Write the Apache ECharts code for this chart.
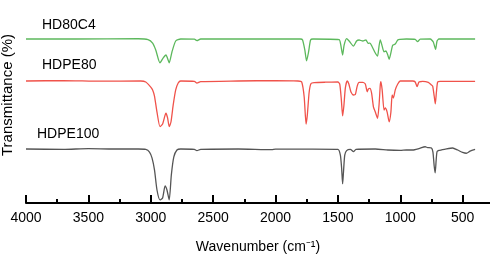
<!DOCTYPE html>
<html>
<head>
<meta charset="utf-8">
<script src="https://cdn.jsdelivr.net/npm/echarts@6/dist/echarts.min.js"></script>
<style>
  html, body { margin: 0; padding: 0; background: #fff; }
  #chart { width: 490px; height: 255px; }
</style>
</head>
<body>
<div id="chart"></div>
<script>
// wavenumber (cm-1), transmittance (offset, a.u.)
const hd80c4 = [
  [4000, 80.8], [3600, 80.8], [3100, 80.9], [3022, 80.5], [2985, 78.8], [2960, 75.4],
  [2926, 69.0], [2900, 71.5], [2878, 72.9], [2852, 69.1], [2830, 74.4], [2800, 79.8],
  [2760, 80.8], [2650, 80.7], [2630, 80.0], [2600, 80.8], [1800, 80.8], [1783, 80.3],
  [1765, 75.4], [1751, 70.0], [1735, 74.4], [1719, 80.3], [1700, 80.8], [1490, 80.5],
  [1478, 78.3], [1462, 72.9], [1450, 77.8], [1430, 81.0], [1410, 79.8], [1375, 77.3],
  [1350, 79.8], [1330, 80.3], [1300, 79.8], [1275, 80.3], [1257, 78.6], [1243, 78.8],
  [1225, 77.0], [1200, 73.9], [1182, 72.4], [1170, 77.3], [1160, 80.3], [1145, 77.3],
  [1130, 74.5], [1115, 74.9], [1100, 72.9], [1089, 70.8], [1070, 75.4], [1060, 77.8],
  [1040, 78.3], [1020, 80.3], [1003, 80.6], [950, 80.8], [880, 80.6], [861, 79.5],
  [840, 80.7], [760, 80.8], [735, 79.3], [717, 75.7], [705, 79.8], [690, 80.8], [400, 80.8]
];

const hdpe80 = [
  [4000, 60.1], [3700, 60.3], [3400, 60.0], [3080, 60.1], [3040, 59.6], [3000, 57.1],
  [2985, 55.7], [2970, 52.7], [2950, 44.8], [2926, 37.6], [2905, 38.9], [2885, 43.3],
  [2878, 44.2], [2865, 41.9], [2852, 37.6], [2838, 39.9], [2820, 48.3], [2800, 55.7],
  [2780, 59.1], [2760, 60.1], [2650, 59.9], [2630, 59.1], [2600, 59.8], [2300, 60.1],
  [2000, 60.3], [1820, 60.1], [1790, 59.6], [1770, 52.2], [1755, 38.9], [1745, 43.3],
  [1730, 54.7], [1715, 58.9], [1690, 59.3], [1600, 59.5], [1500, 59.6], [1485, 58.6],
  [1472, 50.7], [1462, 42.9], [1452, 47.8], [1440, 56.7], [1425, 60.1], [1412, 58.6],
  [1395, 54.7], [1375, 53.2], [1360, 53.4], [1345, 57.6], [1330, 59.4], [1300, 59.4],
  [1280, 58.6], [1265, 54.8], [1255, 56.2], [1243, 56.5], [1230, 54.2], [1215, 47.4],
  [1200, 44.8], [1182, 41.7], [1170, 48.3], [1160, 58.1], [1155, 59.8], [1145, 55.7],
  [1130, 45.8], [1120, 46.8], [1105, 44.8], [1089, 40.0], [1075, 44.8], [1065, 53.2],
  [1055, 51.7], [1040, 55.7], [1020, 58.6], [1000, 60.1], [900, 60.1], [880, 59.6],
  [865, 57.3], [850, 59.6], [820, 59.9], [775, 59.4], [750, 58.1], [740, 57.6],
  [728, 52.7], [719, 48.8], [710, 54.7], [700, 59.6], [680, 59.9], [400, 59.9]
];

const hdpe100 = [
  [4000, 26.6], [3700, 26.4], [3500, 26.8], [3300, 26.6], [3100, 26.6], [3040, 26.4],
  [3010, 25.1], [2990, 22.2], [2970, 16.3], [2950, 6.4], [2926, 1.5], [2905, 2.5],
  [2885, 8.4], [2870, 6.4], [2852, 1.5], [2835, 13.8], [2815, 22.7], [2790, 26.1],
  [2760, 26.6], [2650, 26.4], [2630, 25.8], [2600, 26.4], [2300, 26.6], [2030, 26.3],
  [2000, 26.5], [1700, 26.5], [1500, 26.4], [1480, 23.6], [1470, 17.2], [1462, 9.4],
  [1455, 15.3], [1445, 23.6], [1430, 25.8], [1400, 26.4], [1375, 25.3], [1355, 26.4],
  [1200, 26.6], [1100, 26.1], [1000, 25.9], [950, 26.1], [900, 26.1], [850, 26.8],
  [800, 27.7], [780, 27.3], [750, 27.1], [738, 25.1], [728, 18.2], [720, 14.8],
  [712, 21.2], [705, 25.3], [690, 25.9], [640, 26.5], [580, 27.1], [540, 26.1],
  [500, 24.9], [470, 24.5], [440, 25.6], [400, 26.4]
];

const seriesNames = ['HD80C4', 'HDPE80', 'HDPE100'];
const seriesColors = ['#5cb85c', '#f0524a', '#555555'];

const chart = echarts.init(document.getElementById('chart'));
const font = 'Liberation Sans, Arial, Helvetica, sans-serif';

// axis runs 4000 -> 0; the part below ~280 falls past the right edge of the canvas
const option = {
  animation: false,
  grid: { left: 26, right: -35, top: 0, bottom: 52, outerBoundsMode: 'none', containLabel: false },
  xAxis: {
    type: 'value',
    inverse: true,
    min: 0,
    max: 4000,
    interval: 500,
    splitLine: { show: false },
    axisLine: { show: true, lineStyle: { color: '#000', width: 2 } },
    axisTick: { show: true, inside: true, length: 8, lineStyle: { color: '#000', width: 2 } },
    minorTick: { show: true, splitNumber: 2, length: 4, lineStyle: { color: '#000', width: 2 } },
    axisLabel: { formatter: v => String(v), textStyle: { fontSize: 14, color: '#000' } },
    name: 'Wavenumber (cm⁻¹)',
    nameLocation: 'middle',
    nameGap: 37,
    nameTextStyle: { fontSize: 14, color: '#000', padding: [0, 35, 0, 0] }
  },
  yAxis: {
    type: 'value',
    min: 0,
    max: 100,
    splitLine: { show: false },
    axisLine: { show: true, lineStyle: { color: '#000', width: 2 } },
    axisTick: { show: false },
    axisLabel: { show: false }
  },
  series: [hd80c4, hdpe80, hdpe100].map((d, i) => ({
    name: seriesNames[i],
    type: 'line',
    data: d,
    showSymbol: false,
    smooth: 0.2,
    lineStyle: { color: seriesColors[i], width: 1.3 }
  })),
  graphic: [
    { type: 'text', x: 8, y: 95, rotation: Math.PI / 2,
      style: { text: 'Transmittance (%)', font: '15px ' + font, fill: '#000',
        align: 'center', verticalAlign: 'middle' } },
    { type: 'text', left: 42, top: 18, style: { text: 'HD80C4', font: '14px ' + font, fill: '#000' } },
    { type: 'text', left: 42, top: 58, style: { text: 'HDPE80', font: '14px ' + font, fill: '#000' } },
    { type: 'text', left: 37, top: 127, style: { text: 'HDPE100', font: '14px ' + font, fill: '#000' } }
  ]
};

chart.setOption(option);
</script>
</body>
</html>
